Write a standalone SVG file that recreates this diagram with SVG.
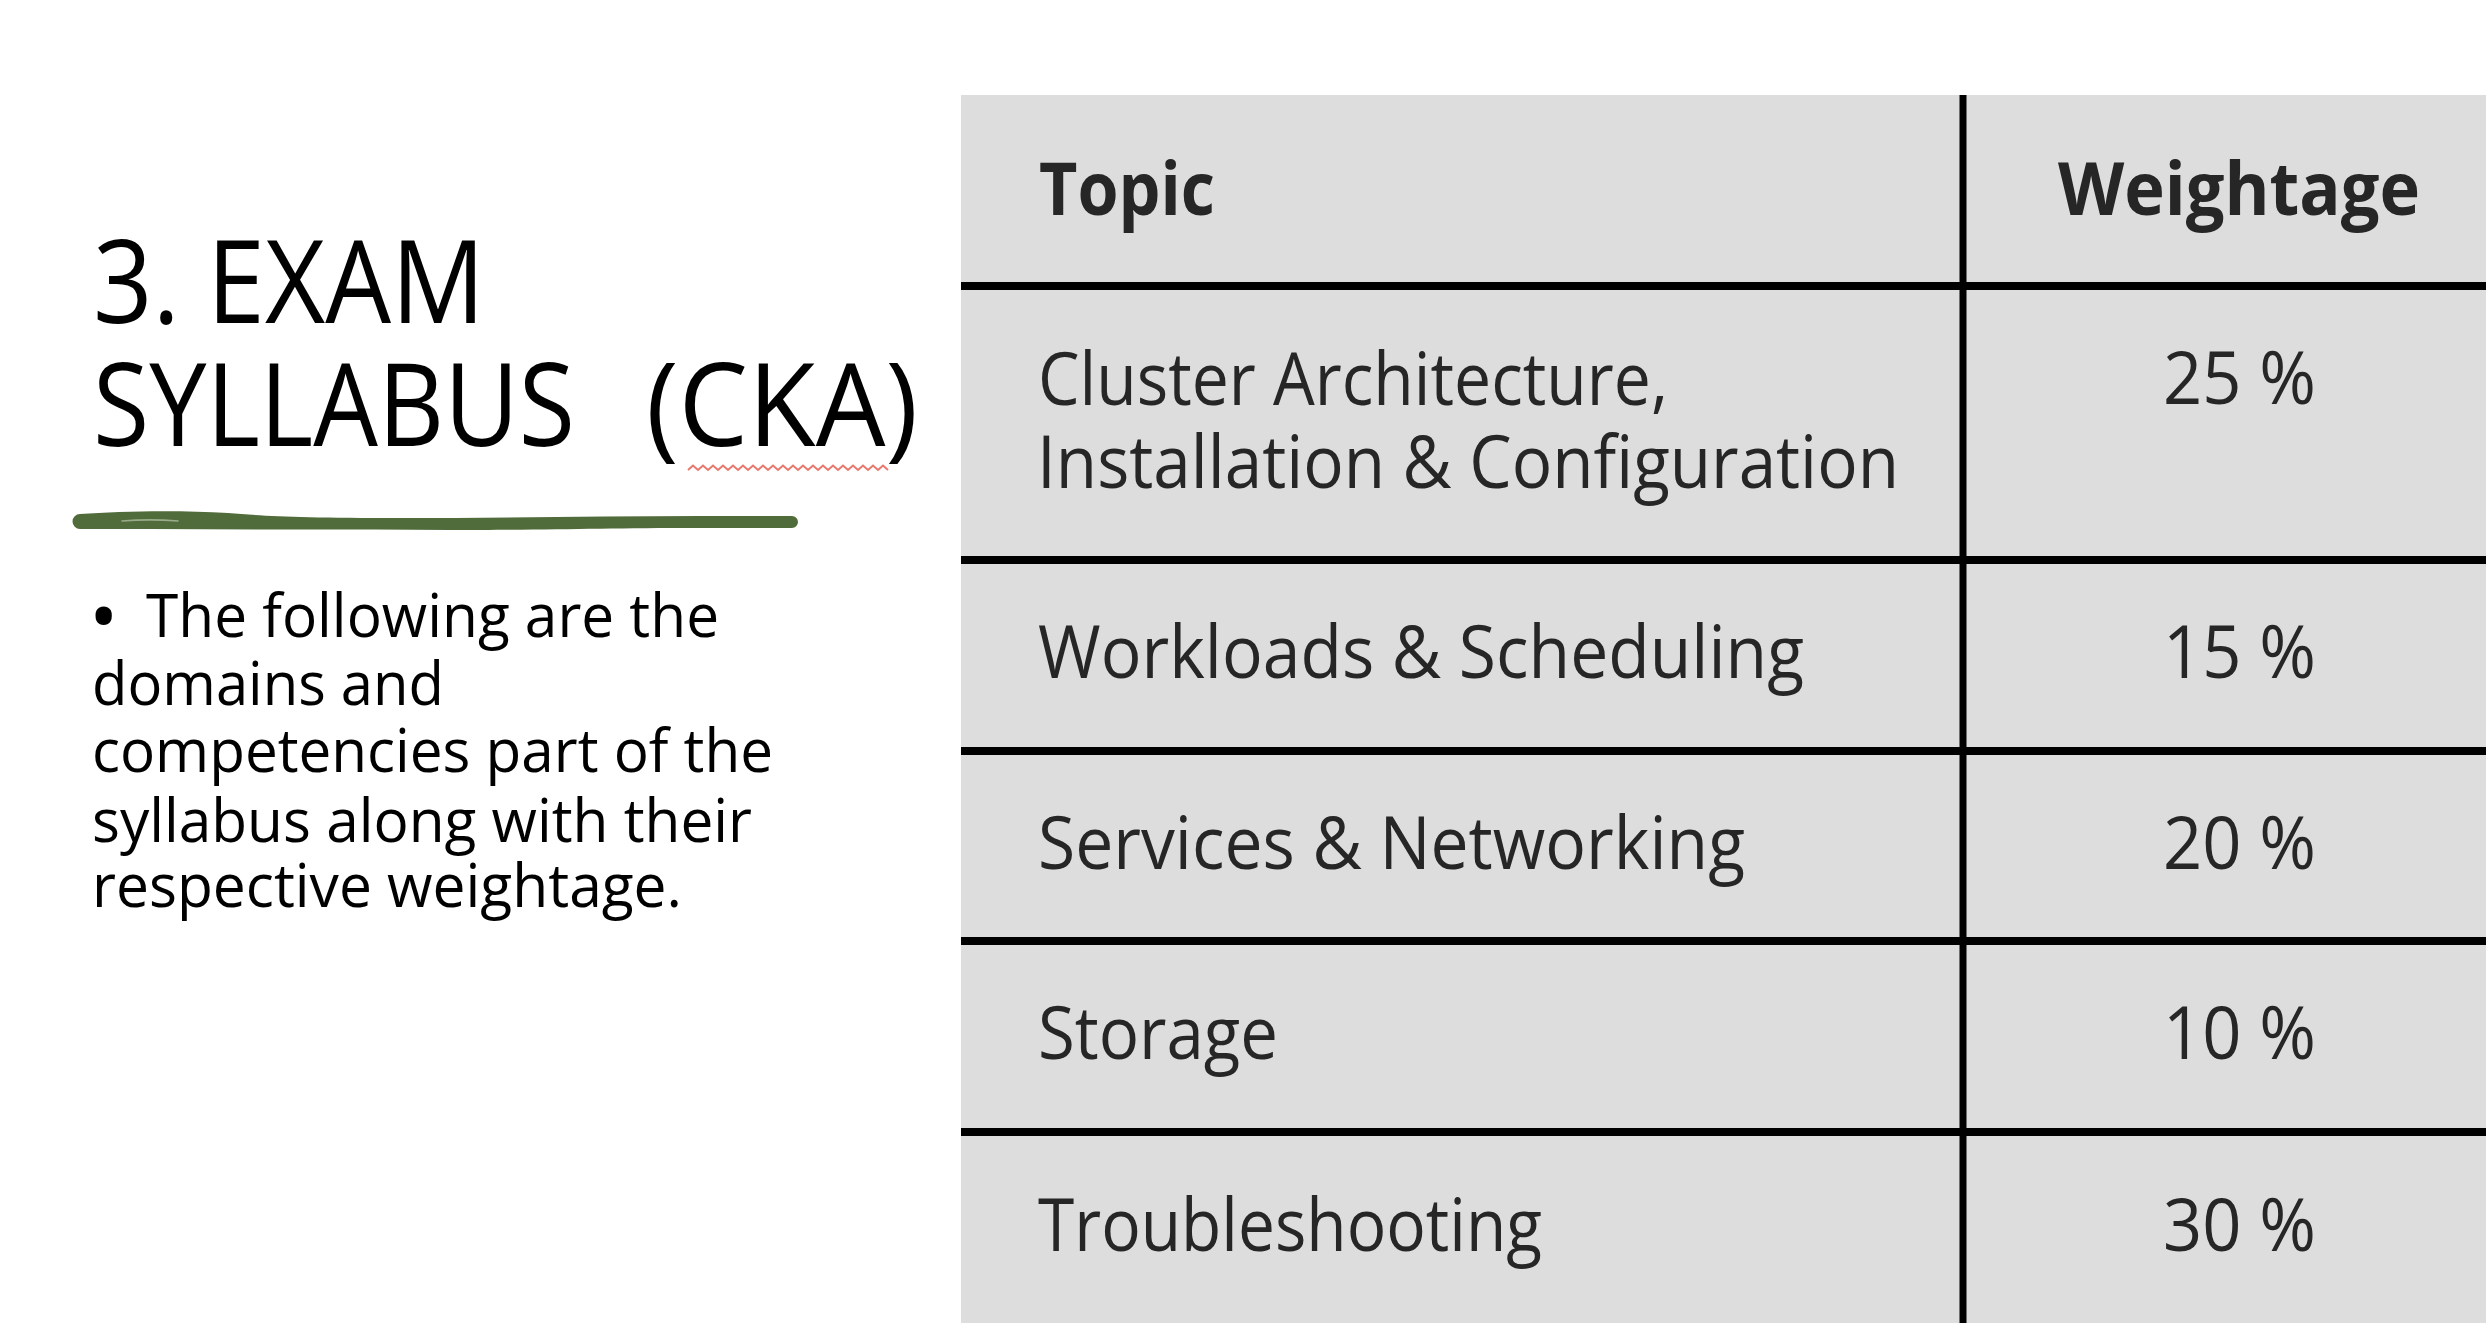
<svg xmlns="http://www.w3.org/2000/svg" width="2492" height="1334" viewBox="0 0 2492 1334">
  <style>
    .title { font-family: "Open Sans", "Noto Sans", "Liberation Sans", sans-serif; font-size: 116px; fill: #000000; font-weight: 400; }
    .body { font-family: "Open Sans", "Noto Sans", "Liberation Sans", sans-serif; font-size: 60px; fill: #000000; }
    .cell { font-family: "Open Sans", "Noto Sans", "Liberation Sans", sans-serif; font-size: 73px; fill: #262626; }
    .head { font-family: "Open Sans", "Noto Sans", "Liberation Sans", sans-serif; font-size: 73px; fill: #262626; font-weight: 700; }
    .rule { stroke: #000000; stroke-width: 8; }
    .vrule { stroke: #000000; stroke-width: 7; }
  </style>
  <rect x="0" y="0" width="2492" height="1334" fill="#ffffff"/>

  <g id="title">
    <text class="title" x="93" y="323" textLength="392" lengthAdjust="spacingAndGlyphs">3. EXAM</text>
    <text class="title" y="446"><tspan x="93" textLength="482" lengthAdjust="spacingAndGlyphs">SYLLABUS</tspan> <tspan x="646" textLength="272" lengthAdjust="spacingAndGlyphs">(CKA)</tspan></text>
    <path d="M688 470 l5 -4.5 l5 4.5 l5 -4.5 l5 4.5 l5 -4.5 l5 4.5 l5 -4.5 l5 4.5 l5 -4.5 l5 4.5 l5 -4.5 l5 4.5 l5 -4.5 l5 4.5 l5 -4.5 l5 4.5 l5 -4.5 l5 4.5 l5 -4.5 l5 4.5 l5 -4.5 l5 4.5 l5 -4.5 l5 4.5 l5 -4.5 l5 4.5 l5 -4.5 l5 4.5 l5 -4.5 l5 4.5 l5 -4.5 l5 4.5 l5 -4.5 l5 4.5 l5 -4.5 l5 4.5 l5 -4.5 l5 4.5 l5 -4.5 l5 4.5" fill="none" stroke="#e8776d" stroke-width="2"/>
  </g>

  <g id="underline">
    <path d="M80 514 C 120 511 180 510 228 513 C 262 516 300 518 400 518 C 500 518 600 516 700 516 L 792 516 A 6 6 0 0 1 792 528 L 700 528 C 600 528 560 530 450 530 C 350 529 250 530 150 529 L 80 529 A 7.5 7.5 0 0 1 80 514 Z" fill="#516c3b"/>
    <path d="M122 521 C 140 519.5 160 519.5 178 521" fill="none" stroke="#9aab8a" stroke-width="1.6" stroke-linecap="round"/>
  </g>

  <g id="bullet">
    <text class="body"><tspan x="89" y="645" font-size="78">•</tspan><tspan x="146" y="637" textLength="573" lengthAdjust="spacingAndGlyphs">The following are the</tspan></text>
    <text class="body" x="92" y="705" textLength="352" lengthAdjust="spacingAndGlyphs">domains and</text>
    <text class="body" x="92" y="772" textLength="681" lengthAdjust="spacingAndGlyphs">competencies part of the</text>
    <text class="body" x="92" y="842" textLength="660" lengthAdjust="spacingAndGlyphs">syllabus along with their</text>
    <text class="body" x="92" y="907" textLength="590" lengthAdjust="spacingAndGlyphs">respective weightage.</text>
  </g>

  <g id="table">
    <rect x="961" y="95" width="1525" height="1228" fill="#dcdddc"/>
    <g id="grid">
      <line class="rule" x1="961" y1="286" x2="2486" y2="286"/>
      <line class="rule" x1="961" y1="560" x2="2486" y2="560"/>
      <line class="rule" x1="961" y1="751" x2="2486" y2="751"/>
      <line class="rule" x1="961" y1="941" x2="2486" y2="941"/>
      <line class="rule" x1="961" y1="1132" x2="2486" y2="1132"/>
      <line class="vrule" x1="1963" y1="95" x2="1963" y2="1323"/>
    </g>
    <g id="row-header">
      <text class="head" x="1039" y="215" textLength="176" lengthAdjust="spacingAndGlyphs">Topic</text>
      <text class="head" x="2058" y="215" textLength="362" lengthAdjust="spacingAndGlyphs">Weightage</text>
    </g>
    <g id="row-cluster">
      <text class="cell" x="1038" y="405" textLength="630" lengthAdjust="spacingAndGlyphs">Cluster Architecture,</text>
      <text class="cell" x="1037" y="488" textLength="862" lengthAdjust="spacingAndGlyphs">Installation &amp; Configuration</text>
      <text class="cell" x="2163" y="404" textLength="153" lengthAdjust="spacingAndGlyphs">25 %</text>
    </g>
    <g id="row-workloads">
      <text class="cell" x="1038" y="678" textLength="766" lengthAdjust="spacingAndGlyphs">Workloads &amp; Scheduling</text>
      <text class="cell" x="2163" y="678" textLength="153" lengthAdjust="spacingAndGlyphs">15 %</text>
    </g>
    <g id="row-services">
      <text class="cell" x="1038" y="869" textLength="707" lengthAdjust="spacingAndGlyphs">Services &amp; Networking</text>
      <text class="cell" x="2163" y="869" textLength="153" lengthAdjust="spacingAndGlyphs">20 %</text>
    </g>
    <g id="row-storage">
      <text class="cell" x="1038" y="1059" textLength="240" lengthAdjust="spacingAndGlyphs">Storage</text>
      <text class="cell" x="2163" y="1059" textLength="153" lengthAdjust="spacingAndGlyphs">10 %</text>
    </g>
    <g id="row-troubleshooting">
      <text class="cell" x="1038" y="1251" textLength="504" lengthAdjust="spacingAndGlyphs">Troubleshooting</text>
      <text class="cell" x="2163" y="1251" textLength="153" lengthAdjust="spacingAndGlyphs">30 %</text>
    </g>
  </g>
</svg>
